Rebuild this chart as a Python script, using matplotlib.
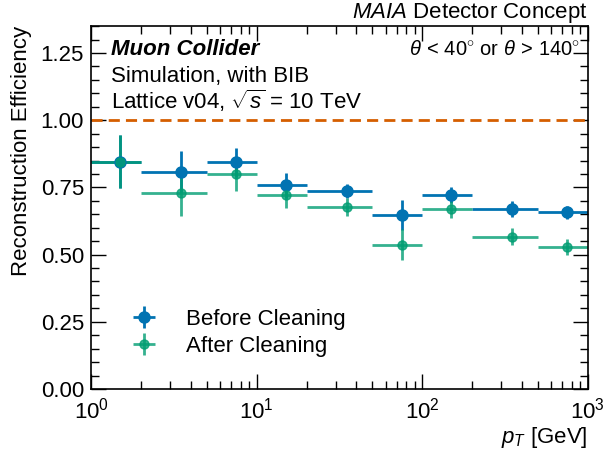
import numpy as np
import matplotlib
matplotlib.use("Agg")
import matplotlib.pyplot as plt
from matplotlib.ticker import MultipleLocator, LogLocator, NullFormatter

plt.rcParams['font.family'] = ['Liberation Sans', 'DejaVu Sans']
plt.rcParams['mathtext.fontset'] = 'custom'
plt.rcParams['mathtext.rm'] = 'Liberation Sans'
plt.rcParams['mathtext.it'] = 'Liberation Sans:italic'
plt.rcParams['mathtext.bf'] = 'Liberation Sans:bold'

bin_edges = [1, 2, 5, 10, 20, 50, 100, 200, 500, 1000]
eff_before = [0.846, 0.807, 0.843, 0.757, 0.737, 0.647, 0.722, 0.671, 0.658]
err_before = [0.10, 0.077, 0.053, 0.045, 0.027, 0.055, 0.030, 0.030, 0.024]
eff_after = [0.846, 0.730, 0.798, 0.723, 0.677, 0.537, 0.668, 0.567, 0.529]
err_after = [0.10, 0.087, 0.060, 0.048, 0.034, 0.058, 0.031, 0.032, 0.030]

edges = np.array(bin_edges, dtype=float)
centers = (edges[:-1] + edges[1:]) / 2
xerr = np.vstack([centers - edges[:-1], edges[1:] - centers])

FS = 16

fig = plt.figure(figsize=(6.15, 4.5), dpi=100)
ax = fig.add_axes([0.148, 0.1356, 0.808, 0.8064])

ax.axhline(1.0, color='#D55E00', ls='--', lw=2, dashes=(4, 2.2))
ax.errorbar(centers, eff_before, yerr=err_before, xerr=xerr, fmt='o',
            color='#0173B2', ms=8, lw=2, label='Before Cleaning')
ax.errorbar(centers, eff_after, yerr=err_after, xerr=xerr, fmt='o',
            color='#029E73', ms=6.5, lw=2, alpha=0.8, label='After Cleaning')

ax.set_xscale('log')
ax.set_xlim(1, 1000)
ax.set_ylim(0, 1.35)
ax.yaxis.set_major_locator(MultipleLocator(0.25))
ax.yaxis.set_minor_locator(MultipleLocator(0.05))
ax.xaxis.set_minor_locator(LogLocator(base=10, subs=np.arange(2, 10)))
ax.xaxis.set_minor_formatter(NullFormatter())
ax.set_yticks([0, 0.25, 0.5, 0.75, 1.0, 1.25])
ax.set_yticklabels(['0.00', '0.25', '0.50', '0.75', '1.00', '1.25'])
ax.tick_params(which='both', direction='in', top=True, right=True, labelsize=FS)
ax.tick_params(which='major', length=11, width=1)
ax.tick_params(which='minor', length=5.5, width=1)
ax.tick_params(axis='x', which='major', pad=6)
ax.tick_params(axis='y', which='major', pad=5)
for s in ax.spines.values():
    s.set_linewidth(1.2)

ax.set_xlabel(r'$p_T$ [GeV]', fontsize=FS, loc='right', labelpad=1)
ax.set_ylabel('Reconstruction Efficiency', fontsize=FS, loc='top', labelpad=6)

ax.text(0.04, 0.920, 'Muon Collider', transform=ax.transAxes, fontsize=FS,
        fontweight='bold', fontstyle='italic', va='baseline', ha='left')
ax.text(0.04, 0.846, 'Simulation, with BIB', transform=ax.transAxes, fontsize=FS,
        va='baseline', ha='left')
ax.text(0.04, 0.771, r'Lattice v04, $\sqrt{s}$ = 10 TeV', transform=ax.transAxes,
        fontsize=FS, va='baseline', ha='left')
ax.text(0.985, 0.920, r'$\theta\,<\,40^{\circ}$ or $\theta\,>\,140^{\circ}$',
        transform=ax.transAxes, fontsize=14.5, va='baseline', ha='right')
ax.text(1.0, 1.022, r'$MAIA$ Detector Concept', transform=ax.transAxes,
        fontsize=FS, va='baseline', ha='right')

ax.legend(loc='center left', bbox_to_anchor=(0.04, 0.155), frameon=False,
          fontsize=FS, handletextpad=1.3, handlelength=1.2, labelspacing=0.25)

fig.savefig('out.png', dpi=100)
